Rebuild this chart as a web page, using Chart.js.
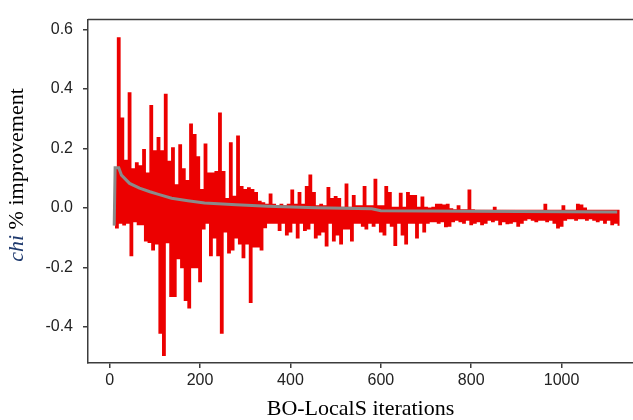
<!DOCTYPE html>
<html>
<head>
<meta charset="utf-8">
<script src="https://cdn.jsdelivr.net/npm/chart.js@4.4.1/dist/chart.umd.min.js"></script>
<style>
  html, body { margin: 0; padding: 0; background: #fff; }
  #wrap { width: 633px; height: 420px; }
</style>
</head>
<body>
<div id="wrap"><canvas id="chart" width="633" height="420"></canvas></div>
<script>
// per-iteration improvement, read as high / low envelope of each 8-iteration column
const redStart = 10;
const redStep = 8;
const redHigh = [
  0.13, 0.57, 0.30, 0.158, 0.385, 0.13, 0.15, 0.14, 0.194, 0.115,
  0.342, 0.19, 0.235, 0.19, 0.38, 0.155, 0.2, 0.076, 0.21, 0.13,
  0.09, 0.28, 0.245, 0.17, 0.06, 0.213, 0.115, 0.115, 0.12, 0.317,
  0.12, 0.03, 0.217, 0.037, 0.24, 0.07, 0.06, 0.066, 0.06, 0.05,
  0.02, 0.015, 0.01, 0.045, 0.01, 0.005, 0.01, 0.005, 0.01, 0.058,
  0.01, 0.05, 0.01, 0.07, 0.109, 0.05, 0.005, 0.01, 0.005, 0.067,
  0.03, 0.036, 0.03, 0.0, 0.078, 0.0, 0.04, 0.005, 0.005, 0.07,
  0.005, 0.005, 0.094, 0.005, 0.005, 0.07, 0.05, 0.0, 0.0, 0.047,
  0.0, 0.05, 0.04, 0.04, 0.0, 0.035, 0.0, -0.002, 0.0, 0.01,
  0.01, 0.008, 0.01, -0.005, -0.008, 0.005, -0.008, -0.008, 0.058, -0.008,
  -0.01, -0.01, -0.01, -0.01, -0.01, 0.0, -0.01, -0.01, -0.01, -0.01,
  -0.01, -0.01, -0.01, -0.01, -0.01, -0.01, -0.01, -0.01, -0.01, 0.01,
  -0.01, -0.01, -0.01, -0.01, 0.005, -0.01, -0.01, -0.01, 0.01, 0.008,
  -0.002, -0.01, -0.01, -0.01, -0.01, -0.01, -0.01, -0.01, -0.01, -0.01
];
const redLow = [
  -0.066, -0.05, -0.056, -0.05, -0.16, -0.045, -0.055, -0.055, -0.11, -0.115,
  -0.14, -0.12, -0.42, -0.495, -0.116, -0.297, -0.297, -0.17, -0.2, -0.31,
  -0.335, -0.2, -0.2, -0.247, -0.07, -0.05, -0.16, -0.1, -0.16, -0.42,
  -0.08, -0.15, -0.14, -0.1, -0.12, -0.166, -0.12, -0.317, -0.13, -0.13,
  -0.14, -0.065, -0.05, -0.05, -0.05, -0.075, -0.05, -0.09, -0.08, -0.05,
  -0.1, -0.05, -0.075, -0.07, -0.05, -0.1, -0.09, -0.08, -0.127, -0.05,
  -0.11, -0.09, -0.12, -0.07, -0.07, -0.11, -0.05, -0.05, -0.06, -0.07,
  -0.05, -0.06, -0.05, -0.08, -0.09, -0.05, -0.06, -0.125, -0.05, -0.09,
  -0.12, -0.05, -0.05, -0.1, -0.05, -0.08, -0.05, -0.045, -0.045, -0.05,
  -0.045, -0.062, -0.06, -0.045, -0.04, -0.045, -0.05, -0.04, -0.055, -0.05,
  -0.045, -0.055, -0.05, -0.04, -0.045, -0.04, -0.055, -0.045, -0.052, -0.05,
  -0.045, -0.06, -0.05, -0.04, -0.035, -0.04, -0.045, -0.04, -0.04, -0.045,
  -0.04, -0.05, -0.066, -0.06, -0.04, -0.035, -0.035, -0.04, -0.035, -0.035,
  -0.04, -0.035, -0.04, -0.045, -0.04, -0.05, -0.04, -0.055, -0.05, -0.06
];

// running mean (gray)
const meanIter = [10, 12, 20, 26, 44, 66, 89, 108, 137, 173, 210, 280, 350, 456, 580, 600, 800, 1123];
const meanValue = [-0.06, 0.135, 0.135, 0.11, 0.082, 0.066, 0.054, 0.045, 0.032, 0.024, 0.016, 0.01, 0.005, 0.0, -0.003, -0.01, -0.012, -0.014];

const xTicks = [0, 200, 400, 600, 800, 1000];
const yTicks = [-0.4, -0.2, 0.0, 0.2, 0.4, 0.6];

const redPoints = [];
redHigh.forEach((hi, i) => {
  const it = redStart + i * redStep;
  redPoints.push({ x: it, y: hi });
  redPoints.push({ x: it + redStep / 2, y: redLow[i] });
});
const meanPoints = meanIter.map((it, i) => ({ x: it, y: meanValue[i] }));

const axisColor = '#3c3c3c';
const tickFont = { family: '"Liberation Sans Narrow", "Arial Narrow", "Liberation Sans", sans-serif', size: 16 };

// top frame line + y title with italic "chi"
const framePlugin = {
  id: 'frame',
  afterDraw(chart) {
    const { ctx, chartArea } = chart;
    ctx.save();
    ctx.strokeStyle = axisColor;
    ctx.lineWidth = 1.5;
    ctx.beginPath();
    ctx.moveTo(chartArea.left, chartArea.top);
    ctx.lineTo(chartArea.right, chartArea.top);
    ctx.stroke();

    const italic = 'italic 22px "Liberation Serif", "Times New Roman", serif';
    const normal = '22px "Liberation Serif", "Times New Roman", serif';
    ctx.font = italic;
    const w1 = ctx.measureText('chi').width;
    ctx.font = normal;
    const w2 = ctx.measureText(' % improvement').width;
    ctx.translate(23, 175);
    ctx.rotate(-Math.PI / 2);
    ctx.textBaseline = 'alphabetic';
    ctx.textAlign = 'left';
    const x0 = -(w1 + w2) / 2;
    ctx.font = italic;
    ctx.fillStyle = '#1f3a6e';
    ctx.fillText('chi', x0, 0);
    ctx.font = normal;
    ctx.fillStyle = '#000';
    ctx.fillText(' % improvement', x0 + w1, 0);
    ctx.restore();
  }
};

new Chart(document.getElementById('chart'), {
  type: 'line',
  data: {
    datasets: [{
      label: 'mean',
      data: meanPoints,
      borderColor: '#8a8a8a',
      borderWidth: 3,
      pointRadius: 0,
      tension: 0,
      order: 0,
    }, {
      label: 'improvement',
      data: redPoints,
      borderColor: 'rgb(236, 0, 0)',
      borderWidth: 2,
      pointRadius: 0,
      stepped: true,
      order: 1,
    }],
  },
  options: {
    responsive: false,
    devicePixelRatio: 1,
    animation: false,
    layout: { padding: { left: 28, top: 11, right: 0, bottom: 0 } },
    plugins: {
      legend: { display: false },
      tooltip: { enabled: false },
    },
    scales: {
      x: {
        type: 'linear',
        min: -48,
        max: 1158,
        afterBuildTicks: (axis) => { axis.ticks = xTicks.map((v) => ({ value: v })); },
        afterFit: (axis) => { axis.height = 57; },
        ticks: {
          font: tickFont,
          color: '#222',
          padding: 3,
          maxRotation: 0,
          callback: (v) => String(v),
        },
        grid: { drawOnChartArea: false, drawTicks: true, tickLength: 5, color: axisColor, lineWidth: 1.5 },
        border: { display: true, color: axisColor, width: 1.5 },
        title: {
          display: true,
          text: 'BO-LocalS iterations',
          color: '#000',
          font: { family: '"Liberation Serif", "Times New Roman", serif', size: 22, lineHeight: 1.0 },
          padding: { top: 0, bottom: 0 },
        },
      },
      y: {
        min: -0.522,
        max: 0.633,
        afterBuildTicks: (axis) => { axis.ticks = yTicks.map((v) => ({ value: v })); },
        afterFit: (axis) => { axis.width = 60; },
        ticks: {
          font: tickFont,
          color: '#222',
          padding: 10,
          callback: (v) => v.toFixed(1),
        },
        grid: { drawOnChartArea: false, drawTicks: true, tickLength: 5, color: axisColor, lineWidth: 1.5 },
        border: { display: true, color: axisColor, width: 1.5 },
      },
    },
  },
  plugins: [framePlugin],
});
</script>
</body>
</html>
